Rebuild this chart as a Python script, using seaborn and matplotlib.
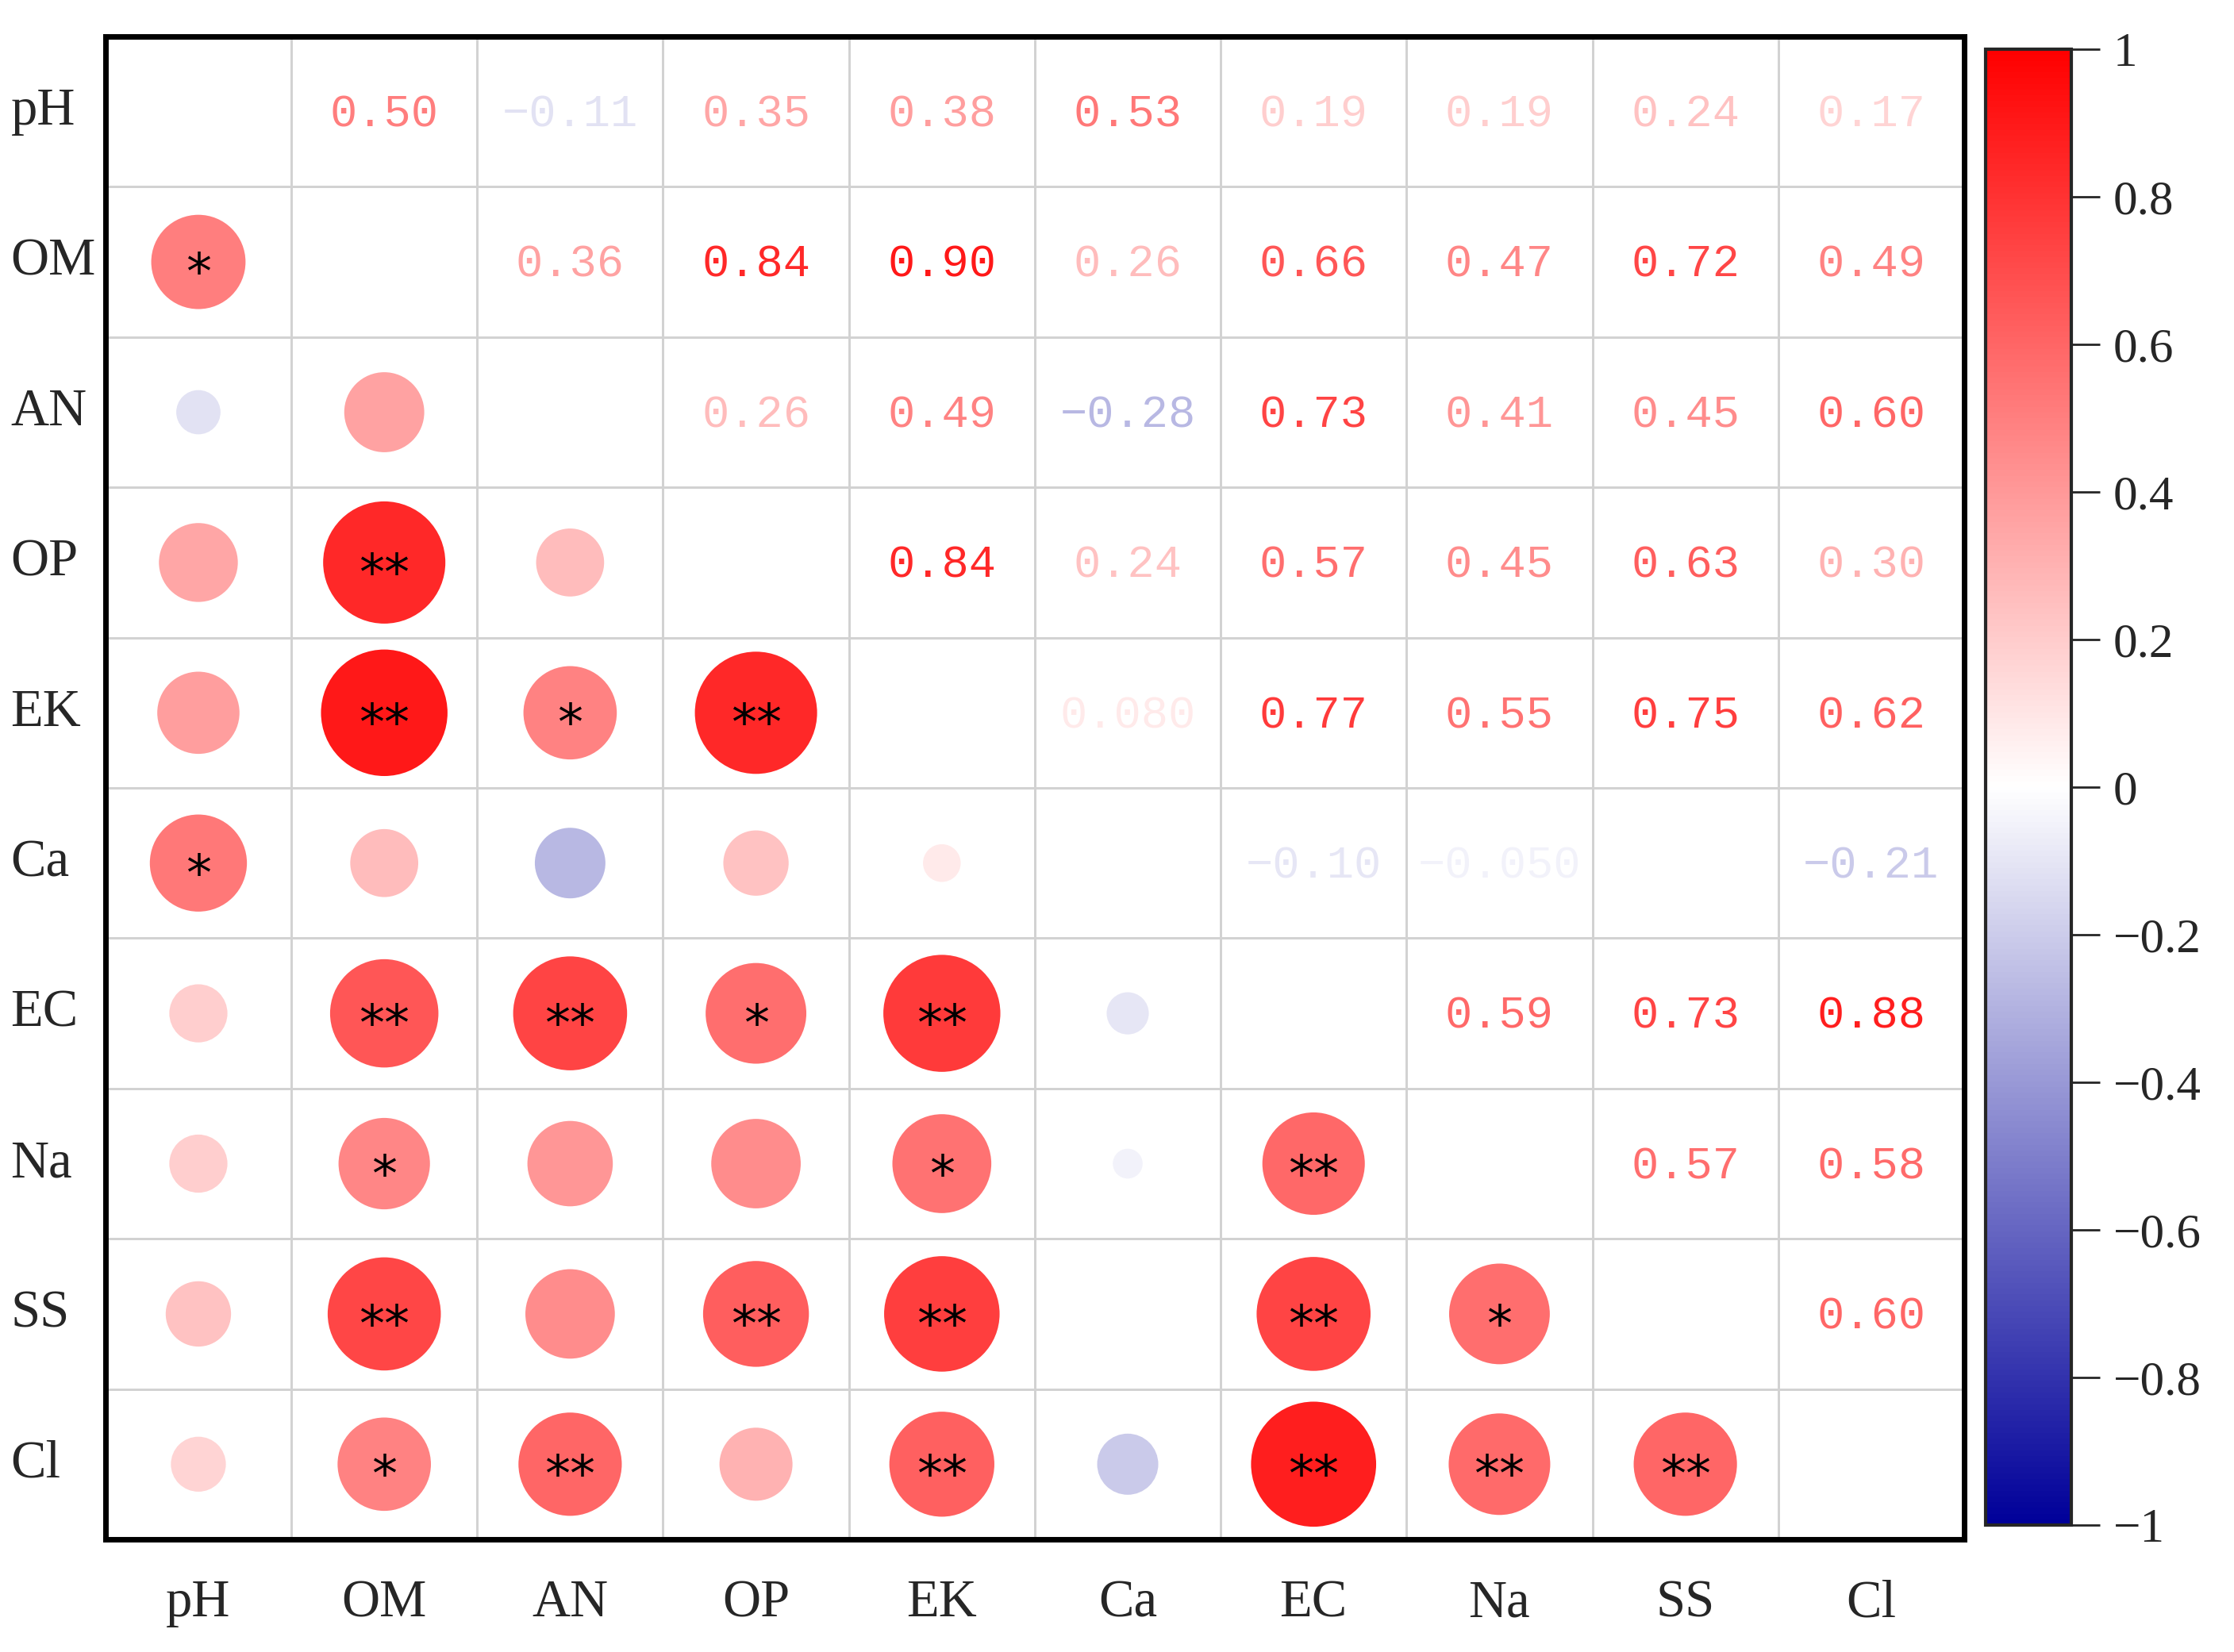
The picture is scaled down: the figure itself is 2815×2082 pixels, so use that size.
import numpy as np
import pandas as pd
import matplotlib
matplotlib.use("Agg")
import matplotlib.pyplot as plt
from matplotlib.colors import LinearSegmentedColormap, ListedColormap, Normalize
from matplotlib.cm import ScalarMappable
import seaborn as sns

labels = ["pH", "OM", "AN", "OP", "EK", "Ca", "EC", "Na", "SS", "Cl"]

# correlation matrix, row by row (symmetric)
r_pH = [1, 0.50, -0.11, 0.35, 0.38, 0.53, 0.19, 0.19, 0.24, 0.17]
r_OM = [0.50, 1, 0.36, 0.84, 0.90, 0.26, 0.66, 0.47, 0.72, 0.49]
r_AN = [-0.11, 0.36, 1, 0.26, 0.49, -0.28, 0.73, 0.41, 0.45, 0.60]
r_OP = [0.35, 0.84, 0.26, 1, 0.84, 0.24, 0.57, 0.45, 0.63, 0.30]
r_EK = [0.38, 0.90, 0.49, 0.84, 1, 0.080, 0.77, 0.55, 0.75, 0.62]
r_Ca = [0.53, 0.26, -0.28, 0.24, 0.080, 1, -0.10, -0.050, np.nan, -0.21]
r_EC = [0.19, 0.66, 0.73, 0.57, 0.77, -0.10, 1, 0.59, 0.73, 0.88]
r_Na = [0.19, 0.47, 0.41, 0.45, 0.55, -0.050, 0.59, 1, 0.57, 0.58]
r_SS = [0.24, 0.72, 0.45, 0.63, 0.75, np.nan, 0.73, 0.57, 1, 0.60]
r_Cl = [0.17, 0.49, 0.60, 0.30, 0.62, -0.21, 0.88, 0.58, 0.60, 1]

# significance marks for the lower triangle
sig_rows = [
    [],
    ["*"],
    ["", ""],
    ["", "**", ""],
    ["", "**", "*", "**"],
    ["*", "", "", "", ""],
    ["", "**", "**", "*", "**", ""],
    ["", "*", "", "", "*", "", "**"],
    ["", "**", "", "**", "**", "", "**", "*"],
    ["", "*", "**", "", "**", "", "**", "**", "**"],
]

cbar_ticks = [1, 0.8, 0.6, 0.4, 0.2, 0, -0.2, -0.4, -0.6, -0.8, -1]
cbar_labels = ["1", "0.8", "0.6", "0.4", "0.2", "0", "\u22120.2", "\u22120.4", "\u22120.6", "\u22120.8", "\u22121"]

corr = np.array([r_pH, r_OM, r_AN, r_OP, r_EK, r_Ca, r_EC, r_Na, r_SS, r_Cl], dtype=float)
n = len(labels)

cmap = LinearSegmentedColormap.from_list("bwr2", ["#000099", "#ffffff", "#ff0000"])
norm = Normalize(-1, 1)


def fmt(v):
    s = f"{v:.3f}" if abs(v) < 0.1 else f"{v:.2f}"
    return s.replace("-", "\u2212")


# long table for the circles
rows = []
for i in range(n):
    for j in range(i):
        v = corr[i, j]
        if np.isnan(v):
            continue
        rows.append({"x": j + 0.5, "y": i + 0.5, "r": v, "absr": abs(v), "sig": sig_rows[i][j]})
low = pd.DataFrame(rows)

sns.set_style("white")
fig = plt.figure(figsize=(14.075, 10.41), dpi=200)
ax = fig.add_axes([0.0472, 0.0682, 0.832, 0.9097])

# white grid of cells
sns.heatmap(np.zeros((n, n)), cmap=ListedColormap(["white"]), cbar=False,
            linewidths=1.0, linecolor="#d2d2d2", xticklabels=labels, yticklabels=labels, ax=ax)

sns.scatterplot(data=low, x="x", y="y", hue="r", size="absr", palette=cmap, hue_norm=norm,
                sizes=(0, 3660), size_norm=(0, 1), legend=False, edgecolor="none",
                linewidth=0, ax=ax, zorder=3)

for _, row in low.iterrows():
    if row["sig"]:
        ax.text(row["x"], row["y"] + 0.18, row["sig"], ha="center", va="baseline",
                fontsize=23, color="black", family="DejaVu Sans", zorder=4)

for i in range(n):
    for j in range(i + 1, n):
        v = corr[i, j]
        if np.isnan(v):
            continue
        ax.text(j + 0.5, i + 0.52, fmt(v), ha="center", va="center", fontsize=20.5,
                color=cmap(norm(v)), family=["Liberation Mono", "DejaVu Sans Mono"], zorder=4)

ax.set_xlim(0, n)
ax.set_ylim(n, 0)
ax.set_xlabel("")
ax.set_ylabel("")
for sp in ax.spines.values():
    sp.set_visible(True)
    sp.set_color("black")
    sp.set_linewidth(2.5)
ax.tick_params(axis="both", length=0)
ax.tick_params(axis="x", pad=18)
ax.tick_params(axis="y", pad=43)
for t in ax.get_xticklabels():
    t.set_fontsize(24)
    t.set_fontfamily("Liberation Serif")
    t.set_rotation(0)
for t in ax.get_yticklabels():
    t.set_fontsize(24)
    t.set_fontfamily("Liberation Serif")
    t.set_rotation(0)
    t.set_ha("left")
    t.set_va("center")

# colour bar
cax = fig.add_axes([0.8888, 0.0768, 0.0384, 0.8934])
sm = ScalarMappable(norm=norm, cmap=cmap)
cb = fig.colorbar(sm, cax=cax, ticks=cbar_ticks)
cb.outline.set_linewidth(1.5)
cb.ax.tick_params(length=13, width=1.0, pad=6, direction="out")
cb.ax.set_yticklabels(cbar_labels)
for t in cb.ax.get_yticklabels():
    t.set_fontsize(22)
    t.set_fontfamily("Liberation Serif")

fig.savefig("out.png", dpi=200)
